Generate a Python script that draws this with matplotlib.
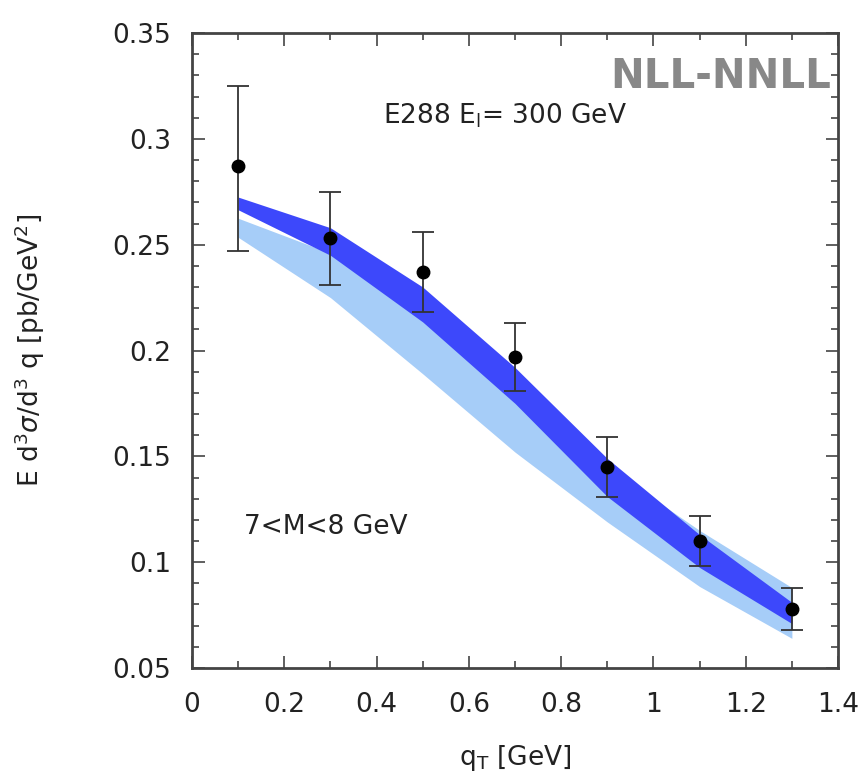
import matplotlib
matplotlib.use("Agg")
import matplotlib.pyplot as plt
from matplotlib import font_manager
from matplotlib.ticker import MultipleLocator

# E288 data, 7 < M < 8 GeV, E_l = 300 GeV
qt = [0.1, 0.3, 0.5, 0.7, 0.9, 1.1, 1.3]
xsec = [0.287, 0.253, 0.237, 0.197, 0.145, 0.110, 0.078]
err_up = [0.325, 0.275, 0.256, 0.213, 0.159, 0.122, 0.088]
err_lo = [0.247, 0.231, 0.218, 0.181, 0.131, 0.098, 0.068]

# theory bands
nnll_hi = [0.2725, 0.258, 0.230, 0.192, 0.149, 0.113, 0.081]
nnll_lo = [0.2665, 0.245, 0.2135, 0.175, 0.131, 0.0975, 0.071]
nll_hi = [0.2625, 0.246, 0.218, 0.182, 0.145, 0.115, 0.088]
nll_lo = [0.2535, 0.225, 0.189, 0.152, 0.119, 0.0885, 0.064]

FS = 19
TXT = "#222222"

# narrow face for the order tag, if one is installed
names = {f.name for f in font_manager.fontManager.ttflist}
tag_family = [n for n in ("DejaVu Sans Condensed", "Liberation Sans Narrow") if n in names]
tag_family += ["DejaVu Sans"]
tag_size = 36 if len(tag_family) > 1 else 29

fig = plt.figure(figsize=(8.66, 7.81), dpi=100)
ax = fig.add_axes([0.2217, 0.1447, 0.746, 0.813])

ax.fill_between(qt, nll_lo, nll_hi, color="#a6cdf8", lw=0, zorder=1)
ax.fill_between(qt, nnll_lo, nnll_hi, color="#3d48fb", lw=0, zorder=2)

yerr = [[v - lo for v, lo in zip(xsec, err_lo)], [hi - v for v, hi in zip(xsec, err_up)]]
ax.errorbar(qt, xsec, yerr=yerr, fmt="o", color="black", ecolor="#333333",
            markersize=9, elinewidth=1.3, capsize=8, capthick=1.3, zorder=3)

ax.set_xlim(0, 1.4)
ax.set_ylim(0.05, 0.35)
ax.xaxis.set_minor_locator(MultipleLocator(0.1))
ax.yaxis.set_minor_locator(MultipleLocator(0.01))
ax.set_xticks([0, 0.2, 0.4, 0.6, 0.8, 1.0, 1.2, 1.4])
ax.set_xticklabels(["0", "0.2", "0.4", "0.6", "0.8", "1", "1.2", "1.4"])
ax.set_yticks([0.05, 0.1, 0.15, 0.2, 0.25, 0.3, 0.35])
ax.set_yticklabels(["0.05", "0.1", "0.15", "0.2", "0.25", "0.3", "0.35"])
ax.tick_params(which="both", direction="in", top=True, right=True, color="#444444",
               labelsize=FS, labelcolor=TXT)
ax.tick_params(which="major", length=9, width=1.2)
ax.tick_params(which="minor", length=5, width=1.2)
ax.tick_params(axis="y", which="major", pad=15)
ax.tick_params(axis="x", which="major", pad=17)
for s in ax.spines.values():
    s.set_linewidth(2)
    s.set_color("#444444")

ax.set_xlabel(r"q$_\mathregular{T}$ [GeV]", fontsize=FS, color=TXT)
ax.set_ylabel(r"E d$^\mathregular{3}\sigma$/d$^\mathregular{3}$ q [pb/GeV$^\mathregular{2}$]",
              fontsize=FS, color=TXT)
ax.xaxis.set_label_coords(0.5, -0.118)
ax.yaxis.set_label_coords(-0.225, 0.5)

ax.text(0.678, 0.311, r"E288 E$_\mathregular{l}$= 300 GeV", ha="center", va="center",
        fontsize=FS, color=TXT)
ax.text(0.113, 0.1167, "7<M<8 GeV", ha="left", va="center", fontsize=FS, color=TXT)
ax.text(0.99, 0.93, "NLL-NNLL", transform=ax.transAxes, ha="right", va="center",
        fontsize=tag_size, color="#888888", fontweight="bold", family=tag_family)

fig.savefig("out.png", dpi=100)
